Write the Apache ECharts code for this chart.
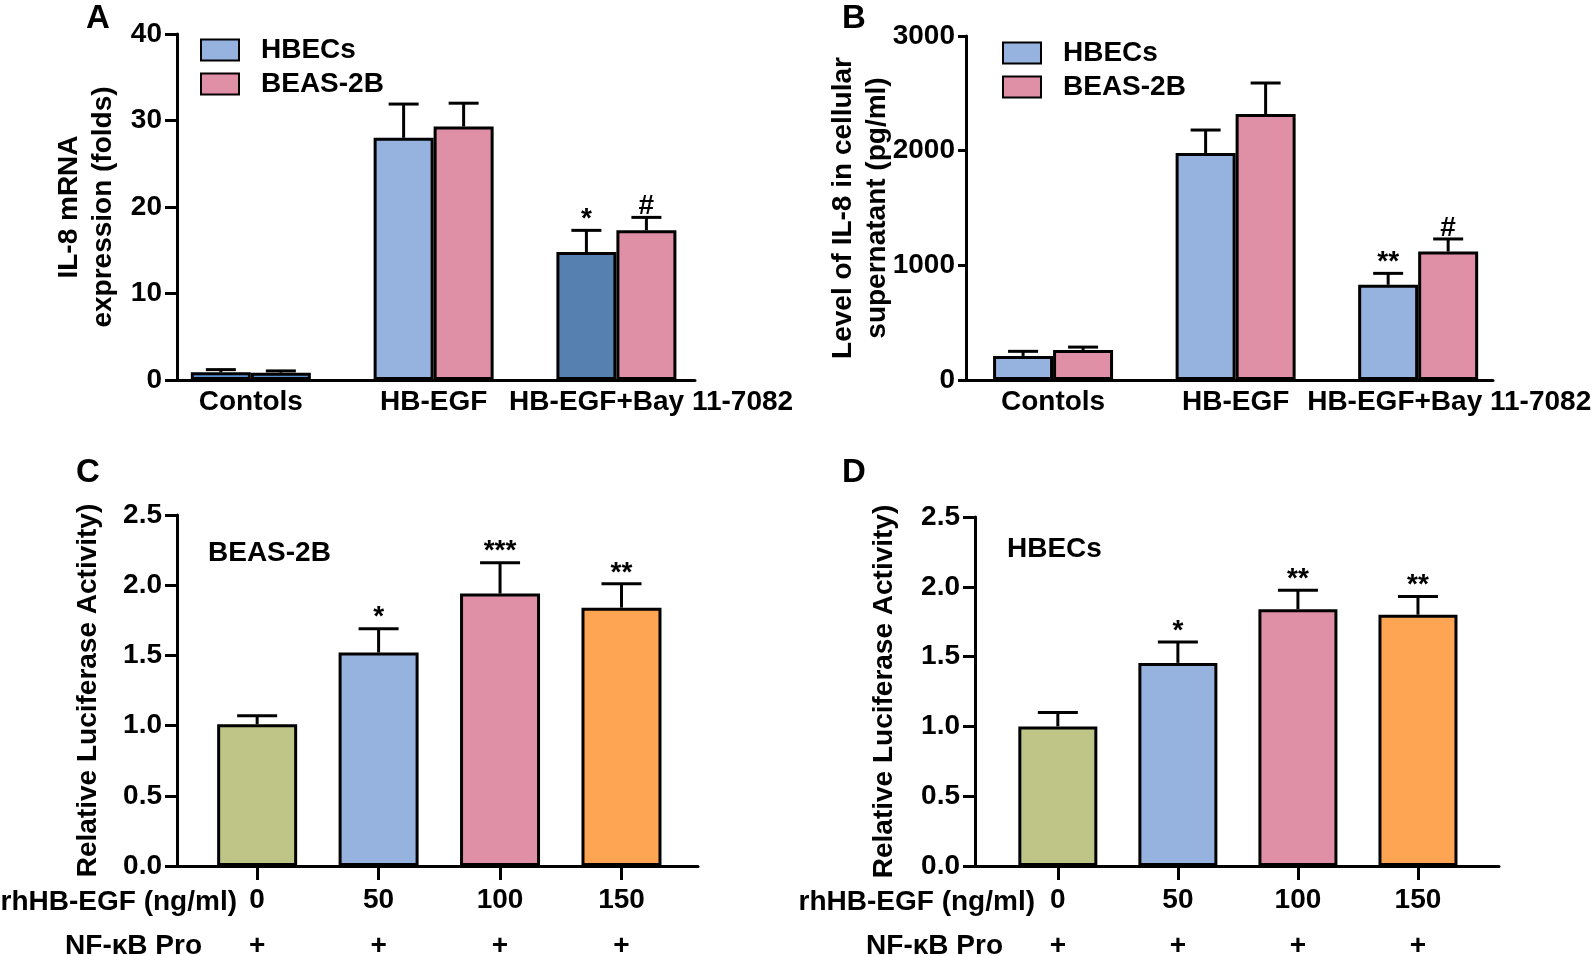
<!DOCTYPE html>
<html>
<head>
<meta charset="utf-8">
<title>IL-8 and NF-kB luciferase</title>
<script src="https://cdn.jsdelivr.net/npm/echarts@6/dist/echarts.min.js"></script>
<style>
  html, body { margin: 0; padding: 0; background: #fff; }
  #chart { width: 1594px; height: 956px; }
</style>
</head>
<body>
<div id="chart"></div>
<script>
// ---------- values ----------
const groups = ['Contols', 'HB-EGF', 'HB-EGF+Bay 11-7082'];
const cellLines = ['HBECs', 'BEAS-2B'];

// A - IL-8 mRNA expression (folds)
const mrnaHBECs = [0.9, 28.0, 14.8];
const mrnaHBECsErr = [0.3, 3.9, 2.5];
const mrnaBEAS = [0.85, 29.3, 17.3];
const mrnaBEASErr = [0.2, 2.7, 1.5];
const mrnaHBECsMark = ['', '', '*'];
const mrnaBEASMark = ['', '', '#'];
const ticksA = [0, 10, 20, 30, 40];

// B - IL-8 in cellular supernatant (pg/ml)
const protHBECs = [210, 1980, 830];
const protHBECsErr = [40, 200, 100];
const protBEAS = [262, 2320, 1120];
const protBEASErr = [25, 270, 110];
const protHBECsMark = ['', '', '**'];
const protBEASMark = ['', '', '#'];
const ticksB = [0, 1000, 2000, 3000];

// C / D - relative luciferase activity
const doses = ['0', '50', '100', '150'];
const nfkbPro = ['+', '+', '+', '+'];
const lucBEAS = [1.01, 1.52, 1.94, 1.84];
const lucBEASErr = [0.06, 0.17, 0.22, 0.17];
const lucBEASMark = ['', '*', '***', '**'];
const lucHBECs = [1.0, 1.455, 1.84, 1.80];
const lucHBECsErr = [0.10, 0.15, 0.135, 0.13];
const lucHBECsMark = ['', '*', '**', '**'];
const ticksLuc = [0, 0.5, 1.0, 1.5, 2.0, 2.5];

// ---------- styles ----------
const FONT = '"Liberation Sans", Arial, Helvetica, sans-serif';
const BLUE = '#95b3de';
const BLUE_CTRL = '#5a8fd3';
const BLUE_DARK = '#5580b0';
const PINK = '#e090a6';
const colorsHBECsA = [BLUE_CTRL, BLUE, BLUE_DARK];
const colorsBEASA = [BLUE_CTRL, PINK, PINK];
const doseColors = ['#bfc586', BLUE, PINK, '#fda552'];

const txt = { color: '#000', fontFamily: FONT, fontWeight: 'bold', fontSize: 28 };
const axLine = { show: true, onZero: false, lineStyle: { color: '#000', width: 3 } };
const border = { borderColor: '#000', borderWidth: 3 };

function yAx(idx, ticks, name, gap, fmt, tickLen, margin) {
    return {
        type: 'value', gridIndex: idx,
        min: ticks[0], max: ticks[ticks.length - 1], interval: ticks[1] - ticks[0],
        axisLine: axLine,
        axisTick: { show: true, length: tickLen || 12, lineStyle: { color: '#000', width: 3 } },
        axisLabel: Object.assign({ margin: margin || 15, formatter: fmt || (v => String(v)) }, txt),
        splitLine: { show: false },
        name: name, nameLocation: 'middle', nameRotate: 90, nameGap: gap, nameMoveOverlap: false,
        nameTextStyle: Object.assign({ lineHeight: 34 }, txt)
    };
}

// x axes are value axes so the group spacing can follow the figure
function xAxGroups(idx, min, max, labelAt) {
    return {
        type: 'value', gridIndex: idx, min: min, max: max,
        axisLine: axLine, axisTick: { show: false }, splitLine: { show: false },
        axisLabel: Object.assign({
            margin: 8, customValues: labelAt,
            formatter: v => groups[Math.round(v)]
        }, txt)
    };
}

function xAxDoses(idx, min, max) {
    return {
        type: 'value', gridIndex: idx, min: min, max: max,
        axisLine: axLine, splitLine: { show: false },
        axisTick: { show: true, customValues: [0, 1, 2, 3], length: 14, lineStyle: { color: '#000', width: 3 } },
        axisLabel: Object.assign({
            margin: 11, lineHeight: 46, customValues: [0, 1, 2, 3],
            formatter: v => doses[v] + '\n' + nfkbPro[v]
        }, txt)
    };
}

function bars(idx, name, vals, colors, width) {
    return {
        type: 'bar', name: name, xAxisIndex: idx, yAxisIndex: idx,
        barWidth: width, barGap: '0%',
        itemStyle: Object.assign({ color: colors[1] }, border),
        data: vals.map((v, i) => ({ value: [i, v], itemStyle: { color: colors[i] } }))
    };
}

// error bars (upper only) + significance marks
function errBars(idx, vals, errs, marks, shift, capW) {
    return {
        type: 'custom', xAxisIndex: idx, yAxisIndex: idx, z: 5, silent: true,
        encode: { x: 0, y: [1, 2] },
        data: vals.map((v, i) => [i, v, v + errs[i]]),
        renderItem: function (params, api) {
            const base = api.coord([api.value(0), api.value(1)]);
            const top = api.coord([api.value(0), api.value(2)]);
            const x = base[0] + shift;
            const ln = { stroke: '#000', lineWidth: 3 };
            const kids = [
                { type: 'line', shape: { x1: x, y1: base[1], x2: x, y2: top[1] }, style: ln },
                { type: 'line', shape: { x1: x - capW / 2, y1: top[1], x2: x + capW / 2, y2: top[1] }, style: ln }
            ];
            const m = marks[params.dataIndex];
            if (m) {
                kids.push({
                    type: 'text', x: x, y: top[1] + 3,
                    style: { text: m, fill: '#000', fontSize: 28, fontWeight: 'bold', fontFamily: FONT,
                             align: 'center', verticalAlign: 'bottom' }
                });
            }
            return { type: 'group', children: kids };
        }
    };
}

function label(text, x, y, size, align, valign) {
    return {
        type: 'text', x: x, y: y, silent: true,
        style: { text: text, fill: '#000', fontSize: size, fontWeight: 'bold', fontFamily: FONT,
                 align: align || 'left', verticalAlign: valign || 'middle' }
    };
}

function legendAt(left, top) {
    return {
        data: cellLines, left: left, top: top, orient: 'vertical', icon: 'rect',
        itemWidth: 38, itemHeight: 21, itemGap: 6, selectedMode: false,
        textStyle: Object.assign({ padding: [0, 0, 0, 17] }, txt)
    };
}

const option = {
    backgroundColor: '#fff',
    animation: false,
    grid: [
        { left: 177, top: 34, width: 518, height: 346, outerBoundsMode: 'none' },
        { left: 966, top: 36, width: 527, height: 344, outerBoundsMode: 'none' },
        { left: 177, top: 515, width: 521, height: 351, outerBoundsMode: 'none' },
        { left: 975, top: 517, width: 524, height: 349, outerBoundsMode: 'none' }
    ],
    legend: [legendAt(195, 31), legendAt(997, 34)],
    xAxis: [
        xAxGroups(0, -0.404, 2.43, [0, 1, 2.19]),
        xAxGroups(1, -0.477, 2.41, [0, 1, 2.17]),
        xAxDoses(2, -0.66, 3.63),
        xAxDoses(3, -0.69, 3.675)
    ],
    yAxis: [
        yAx(0, ticksA, 'IL-8 mRNA\nexpression (folds)', 57),
        yAx(1, ticksB, 'Level of IL-8 in cellular\nsupernatant (pg/ml)', 72, null, 8, 11),
        yAx(2, ticksLuc, 'Relative Luciferase Activity)', 72, v => v.toFixed(1)),
        yAx(3, ticksLuc, 'Relative Luciferase Activity)', 74, v => v.toFixed(1))
    ],
    series: [
        bars(0, 'HBECs', mrnaHBECs, colorsHBECsA, 60),
        bars(0, 'BEAS-2B', mrnaBEAS, colorsBEASA, 60),
        errBars(0, mrnaHBECs, mrnaHBECsErr, mrnaHBECsMark, -30, 30),
        errBars(0, mrnaBEAS, mrnaBEASErr, mrnaBEASMark, 30, 30),

        bars(1, 'HBECs', protHBECs, [BLUE, BLUE, BLUE], 60),
        bars(1, 'BEAS-2B', protBEAS, [PINK, PINK, PINK], 60),
        errBars(1, protHBECs, protHBECsErr, protHBECsMark, -30, 30),
        errBars(1, protBEAS, protBEASErr, protBEASMark, 30, 30),

        bars(2, 'BEAS-2B luc', lucBEAS, doseColors, 80),
        errBars(2, lucBEAS, lucBEASErr, lucBEASMark, 0, 40),

        bars(3, 'HBECs luc', lucHBECs, doseColors, 79),
        errBars(3, lucHBECs, lucHBECsErr, lucHBECsMark, 0, 40)
    ],
    graphic: [
        label('A', 86, 2, 33, 'left', 'top'),
        label('B', 842, 2, 33, 'left', 'top'),
        label('C', 76, 456, 33, 'left', 'top'),
        label('D', 842, 456, 33, 'left', 'top'),
        label('BEAS-2B', 208, 553, 28),
        label('HBECs', 1007, 549, 28),
        label('rhHB-EGF (ng/ml)', 237, 902, 28, 'right'),
        label('NF-\u03baB Pro', 202, 946, 28, 'right'),
        label('rhHB-EGF (ng/ml)', 1035, 902, 28, 'right'),
        label('NF-\u03baB Pro', 1003, 946, 28, 'right')
    ]
};

const myChart = echarts.init(document.getElementById('chart'));
myChart.setOption(option);
</script>
</body>
</html>
